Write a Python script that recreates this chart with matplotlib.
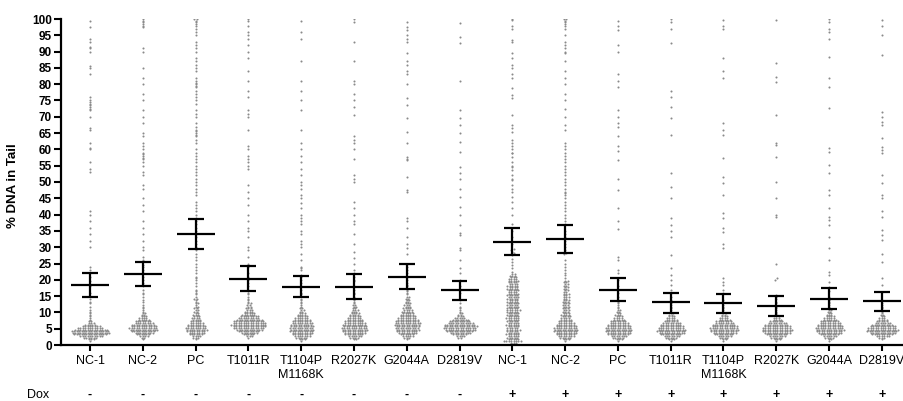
import numpy as np
import matplotlib.pyplot as plt
from matplotlib.transforms import blended_transform_factory

plt.rcParams['font.family'] = ['Liberation Sans', 'DejaVu Sans']

groups = ["NC-1", "NC-2", "PC", "T1011R", "T1104P\nM1168K", "R2027K", "G2044A", "D2819V",
          "NC-1", "NC-2", "PC", "T1011R", "T1104P\nM1168K", "R2027K", "G2044A", "D2819V"]
dox = ["-"] * 8 + ["+"] * 8

# mean and 95% CI of % DNA in tail
means = [18.5, 21.7, 34.0, 20.3, 17.9, 17.7, 20.9, 16.9,
         31.7, 32.6, 16.9, 13.1, 12.9, 12.0, 14.1, 13.4]
ci_low = [14.6, 18.0, 29.5, 16.6, 14.8, 14.2, 17.1, 13.8,
          27.6, 28.1, 13.5, 9.7, 9.9, 9.0, 10.9, 10.4]
ci_high = [22.2, 25.5, 38.5, 24.3, 21.2, 21.7, 24.8, 19.7,
           35.8, 36.9, 20.6, 16.0, 15.7, 14.9, 17.4, 16.4]

# comet counts per 0.5 % bin, starting at 0 %
BIN = 0.5
low_counts = [
    [0, 0, 1, 3, 6, 10, 14, 16, 16, 14, 11, 8, 5, 3, 2, 1, 1, 1, 1, 1, 1, 1, 0, 1, 0, 1, 1, 0, 1, 0],
    [0, 0, 0, 1, 2, 4, 6, 8, 10, 12, 12, 11, 10, 8, 7, 5, 4, 3, 2, 2, 1, 1, 1, 1, 1, 0, 1, 1, 0, 1],
    [0, 0, 0, 1, 3, 4, 6, 7, 8, 9, 9, 8, 7, 6, 5, 4, 4, 3, 3, 2, 2, 2, 2, 2, 1, 2, 1, 1, 2, 1],
    [0, 0, 0, 0, 1, 3, 5, 7, 9, 11, 13, 14, 15, 14, 13, 11, 9, 8, 6, 5, 4, 3, 3, 2, 2, 2, 1, 1, 1, 1],
    [0, 0, 1, 3, 5, 7, 8, 9, 10, 10, 10, 10, 9, 9, 8, 7, 6, 5, 4, 3, 2, 2, 2, 1, 1, 1, 1, 1, 1, 0],
    [0, 0, 0, 2, 4, 6, 8, 9, 10, 11, 11, 10, 10, 9, 8, 7, 6, 5, 4, 4, 3, 3, 2, 2, 2, 1, 1, 1, 1, 1],
    [0, 0, 0, 1, 3, 5, 6, 8, 9, 10, 10, 10, 11, 11, 10, 9, 8, 7, 6, 5, 5, 4, 4, 3, 3, 3, 2, 2, 2, 2],
    [0, 0, 0, 0, 2, 4, 6, 9, 11, 13, 14, 14, 13, 11, 9, 7, 5, 3, 2, 2, 1, 1, 1, 1, 0, 1, 0, 1, 0, 0],
    [1, 3, 8, 5, 5, 5, 6, 5, 5, 6, 5, 5, 6, 5, 5, 5, 6, 5, 5, 5, 5, 6, 5, 5, 5, 5, 5, 4, 5, 5,
     5, 5, 4, 5, 5, 4, 5, 4, 4, 5, 4, 3, 3, 2],
    [0, 0, 1, 3, 5, 7, 8, 9, 10, 10, 10, 9, 8, 7, 6, 5, 4, 4, 4, 3, 3, 3, 3, 3, 3, 3, 3, 3, 2, 3,
     2, 3, 2, 2, 2, 2, 2, 2, 2, 2],
    [0, 0, 1, 3, 5, 7, 9, 10, 11, 11, 11, 10, 9, 8, 7, 5, 4, 3, 3, 2, 2, 2, 1, 1, 1, 1, 1, 1, 0, 1],
    [0, 0, 1, 3, 5, 7, 9, 11, 12, 12, 11, 10, 9, 8, 6, 5, 4, 3, 2, 2, 1, 1, 1, 1, 1, 1, 0, 1, 0, 1],
    [0, 0, 1, 2, 4, 6, 8, 10, 11, 12, 12, 11, 10, 8, 7, 5, 4, 3, 2, 2, 1, 1, 1, 1, 1, 1, 0, 1, 0, 0],
    [0, 0, 1, 3, 5, 7, 9, 11, 12, 13, 12, 11, 10, 8, 6, 4, 3, 2, 2, 1, 1, 1, 1, 1, 0, 1, 1, 0, 1, 1],
    [0, 0, 1, 2, 4, 6, 8, 10, 11, 12, 12, 11, 10, 9, 8, 6, 5, 4, 3, 2, 2, 2, 1, 1, 1, 1, 1, 1, 1, 1],
    [0, 0, 0, 1, 3, 6, 9, 11, 13, 13, 12, 11, 9, 7, 5, 4, 3, 2, 2, 1, 1, 1, 1, 1, 1, 1, 0, 1, 0, 0],
]

# individual comets above the binned range
high_values = [
    [16, 18, 19.5, 21, 23, 24, 30, 32, 34, 36, 38, 40, 41, 53, 54, 56, 60, 60.5, 62, 66, 66.5, 70,
     72, 72.5, 73, 73.5, 74, 74.5, 75, 76, 83, 85, 85.5, 90, 91, 91.5, 93, 94, 97.5, 99.5],
    [15.5, 16, 17, 18, 18.5, 19, 20, 21, 22, 23, 24, 24.5, 26, 27, 29, 30, 32, 34, 36, 38, 41, 43,
     45, 48, 49, 52, 53, 55, 56, 57, 57.5, 58, 58.5, 59, 60, 61, 62, 64, 65, 68, 70, 72, 75, 77, 80,
     82, 85, 90, 91, 97.5, 98, 98.5, 99, 99.5, 100],
    [15.5, 16, 16.5, 17, 18, 19, 20, 20.5, 21, 22, 23, 24, 25, 26, 27, 28, 29, 30, 31, 32, 33, 34,
     35, 36, 37, 38, 39, 40, 41, 42, 43, 44, 46, 47, 48, 49, 50, 51, 52, 53, 54, 55, 56, 57, 58, 59,
     60, 62, 63, 64, 64.5, 65, 65.5, 66, 67, 68, 70, 71, 72, 74, 75, 76, 77, 78, 79, 79.5, 80, 80.5,
     81, 82, 84, 85, 86, 87, 88, 90, 91, 92, 93, 95, 96, 97, 98, 98.5, 99, 99.5, 100, 100],
    [15.5, 16, 16.5, 17, 18, 19, 20, 21, 22, 24, 25, 27, 29, 30, 33, 35, 36, 38, 40, 43, 45, 47, 49,
     54, 55, 56, 57, 58, 60, 61, 66, 70, 71, 72, 76, 78, 81, 84, 88, 90, 92, 94, 95, 96, 98, 99.5, 100],
    [15.5, 16, 17, 18, 19, 20, 21, 21.5, 23, 23.5, 24, 26, 28, 30, 31, 32, 34, 35, 37, 38, 39, 40, 42,
     43.5, 45, 46, 48, 49, 50, 52, 54, 56, 58, 60, 62, 66, 72, 75, 78, 81, 87, 94, 96, 99.4],
    [15.5, 16, 17, 18, 19.5, 20, 21, 22, 23, 25, 26.6, 28.6, 31, 34, 37, 38, 40, 42, 44, 50, 51, 52,
     57, 60, 62, 63, 64, 70.5, 73, 75, 77, 80, 81, 87, 93, 99, 100],
    [15.5, 16, 16.5, 17, 18, 18.5, 19, 20, 21, 22, 23, 24, 25, 28, 29.7, 31, 33, 35.8, 38, 39, 47,
     47.5, 51.6, 56.7, 57, 57.8, 61.9, 65.4, 69.5, 73.6, 75.7, 80, 83, 84, 86, 87, 89.5, 93, 94, 95,
     96.6, 97.6, 99],
    [16, 17, 18, 20, 22, 23.5, 26, 29, 29.7, 33.7, 34.3, 36.8, 40, 42.4, 45.5, 48, 51, 52.7, 54.7,
     59.3, 62.4, 65, 67.5, 69.5, 72, 81, 92.5, 94.6, 98.7],
    [22.5, 23.5, 24.5, 25.5, 26.5, 27.5, 28, 28.3, 28.6, 29, 29.3, 31, 33, 35, 37, 40, 42, 44, 45.5,
     47, 48, 49, 50.6, 51, 52, 53.7, 54.7, 55, 56, 57.8, 58.8, 59, 60, 61, 62, 63, 65.4, 66.5, 67.5,
     70.5, 75.7, 76.7, 78.7, 81.8, 83, 85, 86, 88, 89.5, 93, 93.5, 97, 98, 99.7, 100],
    [20.5, 21.5, 22, 23, 24, 25, 26, 28, 28.2, 28.5, 29, 30, 31, 32, 33, 34, 35, 37, 38, 39, 40, 41,
     42, 43, 44, 45, 46, 46.5, 47, 48, 49, 50, 51, 52, 53, 54, 55, 56, 57, 58, 59, 60, 61, 62, 66,
     67.5, 70, 72.5, 75, 77, 80, 82, 84, 87, 89.5, 90, 91, 92, 93, 95, 97, 98, 98.5, 99, 99.5, 100, 100],
    [16, 17, 18, 20, 22, 23, 26, 27, 35.6, 38, 42, 47.5, 51, 56.7, 59.5, 61, 64, 67, 68, 70, 72, 79,
     81, 83, 90, 92, 96.5, 98, 99.5],
    [16, 17, 18.5, 20, 21.5, 23.5, 27.6, 33, 35, 36.8, 38.9, 45, 48.6, 52.7, 64.4, 69.5, 73, 76, 78,
     92.5, 97, 99, 100],
    [16, 17, 18.4, 19.4, 20.4, 29.7, 31, 34.8, 35.8, 39, 40.4, 46, 49.6, 51.6, 57.3, 64.4, 66, 68,
     81.8, 84, 88, 97, 98, 99.7],
    [15.3, 20, 20.4, 25, 39.4, 39.9, 45, 50, 57.8, 61.3, 61.9, 70.6, 80.8, 82.3, 86.4, 99.7],
    [16.5, 17.9, 19.4, 21.5, 22.5, 26, 29.7, 33.2, 36.8, 38.3, 39.4, 42, 46, 47.5, 52.7, 55.2, 59.3,
     60.3, 72.6, 79.2, 81.8, 88.4, 94, 96, 97, 99, 100],
    [16.4, 18.4, 20.4, 25.6, 28, 32.2, 33.7, 35.3, 39.4, 41, 45, 46, 49.6, 52, 58.8, 59.8, 60.8, 63.4,
     67.5, 68.5, 70, 71.6, 89, 95, 98, 99.7],
]


def swarm(center, counts, extra, dx=0.046):
    """Lay comets out in rows per bin, centred on the group position."""
    ys = [(i + 0.5) * BIN for i, n in enumerate(counts) for _ in range(n)]
    ys = np.array(sorted(ys + list(extra)))
    rows = np.floor(ys / BIN).astype(int)
    xs = np.empty_like(ys)
    for r in np.unique(rows):
        idx = np.where(rows == r)[0]
        n = len(idx)
        shift = dx / 2 if (r % 2 and n > 1) else 0.0
        xs[idx] = center + (np.arange(n) - (n - 1) / 2) * dx + shift
    return xs, ys


fig = plt.figure(figsize=(9.04, 4.01), dpi=100)
ax = fig.add_axes([61 / 904, 56 / 401, 843 / 904, 326 / 401])

pos = np.arange(len(groups))
for i in pos:
    xs, ys = swarm(i, low_counts[i], high_values[i])
    ax.scatter(xs, ys, s=2.2, color='#8a8a8a', linewidths=0, zorder=2)

# mean with 95% CI
ax.hlines(means, pos - 0.36, pos + 0.36, color='black', lw=1.6, zorder=3)
ax.vlines(pos, ci_low, ci_high, color='black', lw=1.6, zorder=3)
ax.hlines(ci_low, pos - 0.15, pos + 0.15, color='black', lw=1.6, zorder=3)
ax.hlines(ci_high, pos - 0.15, pos + 0.15, color='black', lw=1.6, zorder=3)

ax.set_xlim(-0.55, 15.42)
ax.set_ylim(0, 100)
ax.set_yticks(np.arange(0, 101, 5))
ax.set_xticks(pos)
ax.set_xticklabels(groups, fontsize=9, linespacing=1.3)
ax.tick_params(axis='y', labelsize=8.5, width=1.5, length=5, pad=1.5)
ax.tick_params(axis='x', width=1.5, length=4, pad=3)
for lab in ax.get_yticklabels():
    lab.set_fontweight('bold')

for side in ['top', 'right']:
    ax.spines[side].set_visible(False)
for side in ['left', 'bottom']:
    ax.spines[side].set_linewidth(1.6)

ax.set_ylabel('% DNA in Tail', fontsize=9.5, fontweight='bold')
ax.yaxis.set_label_coords(-0.05, 0.49)

# Dox treatment row
trans = blended_transform_factory(ax.transData, ax.transAxes)
for i, sign in zip(pos, dox):
    ax.text(i, -0.152, sign, transform=trans, ha='center', va='center',
            fontsize=9, fontweight='bold')
fig.text(27 / 904, 1 - 394.5 / 401, 'Dox', ha='left', va='center', fontsize=9)

fig.savefig('out.png', dpi=100)
